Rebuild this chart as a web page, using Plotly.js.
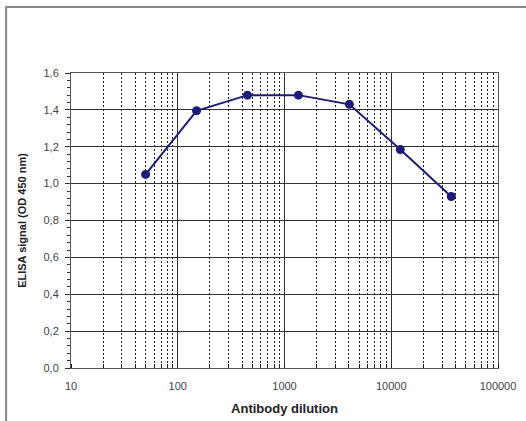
<!DOCTYPE html>
<html><head><meta charset="utf-8">
<script src="https://cdn.plot.ly/plotly-3.0.1.min.js"></script>
<style>html,body{margin:0;padding:0;background:#fff}#c{width:526px;height:421px}</style>
</head><body><div id="c"></div>
<script>
const dilution = [50, 150, 450, 1350, 4050, 12150, 36450];
const signal = [1.05, 1.395, 1.48, 1.48, 1.43, 1.185, 0.93];
const xTickVals = [10, 100, 1000, 10000, 100000];
const xTickText = ["10", "100", "1000", "10000", "100000"];

const trace = {
  x: dilution, y: signal, type: 'scatter', mode: 'lines+markers',
  line: {color: '#1c1c78', width: 2},
  marker: {color: '#1c1c78', size: 9},
  showlegend: false, hoverinfo: 'x+y'
};
const layout = {
  width: 526, height: 421,
  margin: {l: 71, r: 28, t: 73, b: 53},
  paper_bgcolor: '#fff', plot_bgcolor: '#fff',
  separators: ',.',
  font: {family: 'Liberation Sans, Arial, sans-serif', size: 11, color: '#444'},
  xaxis: {
    type: 'log', range: [1, 5],
    tickvals: xTickVals, ticktext: xTickText,
    showgrid: true, gridcolor: '#333', gridwidth: 1.2,
    minor: {dtick: 'D1', showgrid: true, gridcolor: '#222', griddash: '2px,2px', gridwidth: 1, ticks: 'inside', ticklen: 4, tickcolor: '#222'},
    ticks: 'outside', ticklen: 0, ticklabelstandoff: 8,
    showline: true, linecolor: '#555', linewidth: 1, mirror: true,
    zeroline: false,
    tickfont: {size: 11, color: '#444'},
    title: {text: '<b>Antibody dilution</b>', font: {size: 13, color: '#222'}, standoff: 12}
  },
  yaxis: {
    range: [0, 1.6], dtick: 0.2, tickformat: '.1f',
    showgrid: true, gridcolor: '#333', gridwidth: 1.2,
    minor: {dtick: 0.04, ticks: 'outside', ticklen: 3, tickcolor: '#333', showgrid: false},
    ticks: 'outside', ticklen: 5, tickcolor: '#333', ticklabelstandoff: 4,
    showline: true, linecolor: '#555', linewidth: 1, mirror: true,
    zeroline: false,
    tickfont: {size: 11, color: '#444'},
    title: {text: '<b>ELISA signal (OD 450 nm)</b>', font: {size: 11, color: '#222'}, standoff: 14}
  },
  shapes: [{
    type: 'rect', xref: 'paper', yref: 'paper',
    x0: -0.152, x1: 1.1, y0: -0.2, y1: 1.2237,
    line: {color: '#888', width: 2}, fillcolor: 'rgba(0,0,0,0)', layer: 'below'
  }]
};
Plotly.newPlot('c', [trace], layout, {displayModeBar: false, staticPlot: true});
</script></body></html>
